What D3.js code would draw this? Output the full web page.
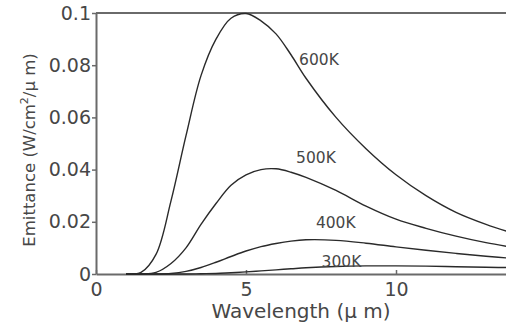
<!DOCTYPE html>
<html>
<head>
<meta charset="utf-8">
<script src="https://cdn.jsdelivr.net/npm/d3@7"></script>
<style>
  body { margin: 0; background: #fff; }
  svg { display: block; }
</style>
</head>
<body>
<div id="chart"></div>
<script>
/* DATA */
const wavelengths = [1, 1.5, 2, 2.5, 3, 3.5, 4, 4.5, 5, 5.5, 6, 6.5, 7, 8, 9, 10, 11, 12, 13, 14];
const e600 = [0, 0.0006, 0.0075, 0.028, 0.053, 0.076, 0.090, 0.098, 0.0998, 0.097, 0.092, 0.084, 0.075, 0.060, 0.048, 0.038, 0.030, 0.0236, 0.019, 0.0153];
const e500 = [0, 0, 0.0006, 0.004, 0.010, 0.019, 0.027, 0.034, 0.038, 0.040, 0.0403, 0.039, 0.037, 0.032, 0.026, 0.021, 0.0175, 0.0145, 0.012, 0.010];
const e400 = [0, 0, 0, 0.0002, 0.001, 0.0025, 0.0045, 0.0067, 0.0088, 0.0105, 0.0117, 0.0126, 0.0131, 0.0129, 0.0118, 0.0104, 0.0091, 0.0079, 0.0068, 0.0059];
const e300 = [0, 0, 0, 0, 0, 0.0001, 0.0002, 0.0005, 0.0008, 0.0012, 0.0016, 0.002, 0.0024, 0.0029, 0.0031, 0.0031, 0.003, 0.0028, 0.0026, 0.0024];

const seriesNames = ["600K", "500K", "400K", "300K"];
const seriesValues = [e600, e500, e400, e300];
// where each curve label sits (wavelength, emittance at text baseline)
const labelX = [6.77, 6.67, 7.33, 7.52];
const labelY = [0.080, 0.0425, 0.0176, 0.0028];

const xTicks = [0, 5, 10];
const xTickLabels = ["0", "5", "10"];
const yTicks = [0, 0.02, 0.04, 0.06, 0.08, 0.1];
const yTickLabels = ["0", "0.02", "0.04", "0.06", "0.08", "0.1"];

/* CONSTANTS */
const width = 506,
  height = 322,
  margin = { top: 13, bottom: 48, left: 96 };
const axisColor = "#6a6a6a",
  textColor = "#474747",
  lineColor = "#2a2a2a";

const svg = d3.select("#chart")
  .append("svg")
  .attr("width", width)
  .attr("height", height);

// + SCALES (domain runs past the right edge, the picture is cut there)
const xScale = d3.scaleLinear()
  .domain([0, 14])
  .range([margin.left, margin.left + 420]);
const yScale = d3.scaleLinear()
  .domain([0, 0.1])
  .range([height - margin.bottom, margin.top]);

// + AXES
const xAxis = d3.axisBottom(xScale)
  .tickValues(xTicks)
  .tickFormat((d, i) => xTickLabels[i])
  .tickSizeInner(-4)
  .tickSizeOuter(0)
  .tickPadding(9);
const yAxis = d3.axisLeft(yScale)
  .tickValues(yTicks)
  .tickFormat((d, i) => yTickLabels[i])
  .tickSizeInner(4)
  .tickSizeOuter(0)
  .tickPadding(1);

const xAxisGroup = svg.append("g")
  .attr("transform", `translate(0, ${yScale(0)})`)
  .call(xAxis);
const yAxisGroup = svg.append("g")
  .attr("transform", `translate(${margin.left}, 0)`)
  .call(yAxis);

[xAxisGroup, yAxisGroup].forEach(g => {
  g.select(".domain").attr("stroke", axisColor).attr("stroke-width", 2);
  g.selectAll(".tick line").attr("stroke", axisColor).attr("stroke-width", 1.5);
  g.selectAll(".tick text")
    .attr("fill", textColor)
    .attr("font-family", "DejaVu Sans")
    .attr("font-size", 19);
});

// top border of the box
svg.append("line")
  .attr("x1", xScale(0))
  .attr("x2", width)
  .attr("y1", yScale(0.1))
  .attr("y2", yScale(0.1))
  .attr("stroke", axisColor)
  .attr("stroke-width", 2);

// + LINES
const lineGen = d3.line()
  .x(d => xScale(d[0]))
  .y(d => yScale(Math.max(0, d[1])))
  .curve(d3.curveCatmullRom.alpha(0.5));

svg.selectAll(".curve")
  .data(seriesValues.map(vals => wavelengths.map((w, i) => [w, vals[i]])))
  .join("path")
  .attr("class", "curve")
  .attr("fill", "none")
  .attr("stroke", lineColor)
  .attr("stroke-width", 1.4)
  .attr("d", d => lineGen(d));

// curve labels
svg.selectAll(".clabel")
  .data(seriesNames)
  .join("text")
  .attr("class", "clabel")
  .attr("x", (d, i) => xScale(labelX[i]))
  .attr("y", (d, i) => yScale(labelY[i]))
  .attr("fill", textColor)
  .attr("font-family", "DejaVu Sans")
  .attr("font-size", 15.5)
  .text(d => d);

// + AXIS TITLES
svg.append("text")
  .attr("x", 301)
  .attr("y", 318)
  .attr("text-anchor", "middle")
  .attr("fill", textColor)
  .attr("font-family", "DejaVu Sans")
  .attr("font-size", 20)
  .text("Wavelength (μ m)");

const yTitle = svg.append("text")
  .attr("transform", `translate(35, 150) rotate(-90)`)
  .attr("text-anchor", "middle")
  .attr("fill", textColor)
  .attr("font-family", "DejaVu Sans")
  .attr("font-size", 16.5);
yTitle.append("tspan").text("Emittance (W/cm");
yTitle.append("tspan").attr("font-size", 11).attr("dy", -7).text("2");
yTitle.append("tspan").attr("dy", 7).text("/μ m)");
</script>
</body>
</html>
